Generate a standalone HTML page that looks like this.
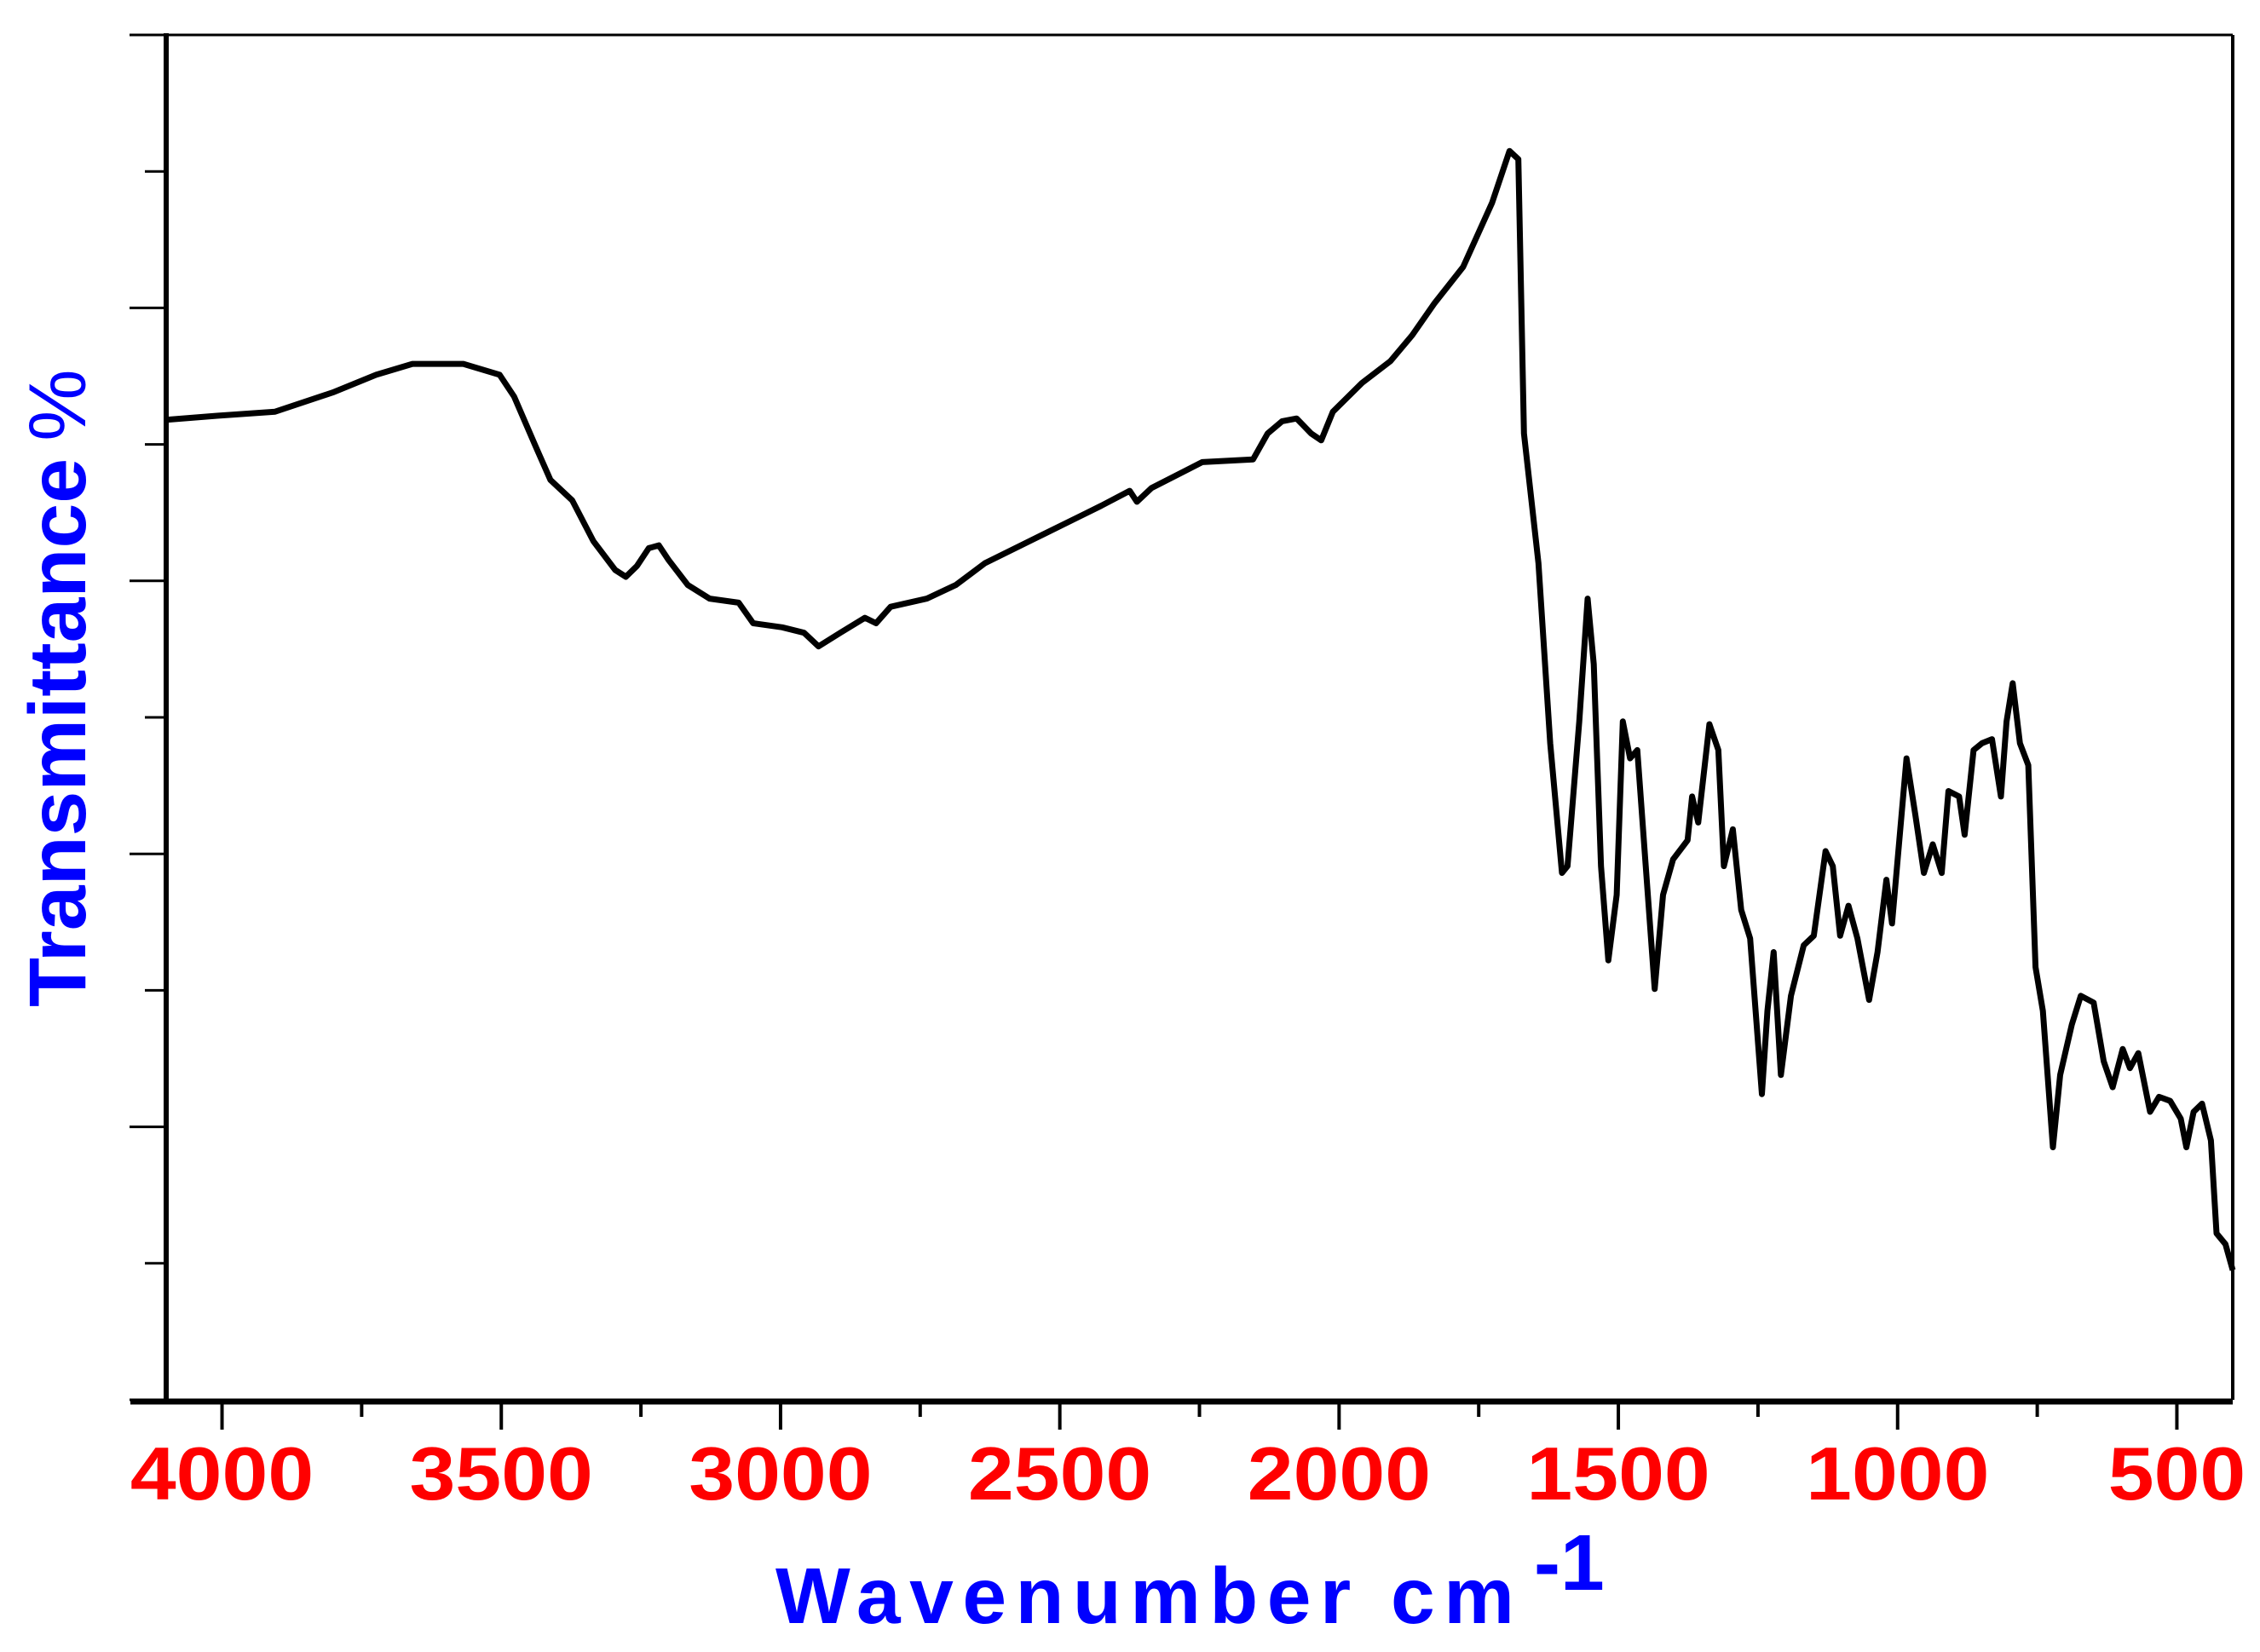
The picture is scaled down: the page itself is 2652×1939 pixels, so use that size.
<!DOCTYPE html>
<html><head><meta charset="utf-8"><style>
html,body{margin:0;padding:0;background:#fff;}
svg{display:block;}
</style></head><body>
<svg id="chart" width="2652" height="1939" viewBox="0 0 2652 1939" xmlns="http://www.w3.org/2000/svg">
<g id="axes"></g>
<path id="spectrum" fill="none" stroke="#000" stroke-width="7" stroke-linejoin="round"/>
<text x="910" y="1905" font-family="Liberation Sans, sans-serif" font-weight="bold" font-size="93" fill="#0000ff" textLength="867" lengthAdjust="spacing">Wavenumber cm</text>
<text x="1800" y="1866" font-family="Liberation Sans, sans-serif" font-weight="bold" font-size="93" fill="#0000ff">-1</text>
<text transform="translate(100,1182) rotate(-90)" font-family="Liberation Sans, sans-serif" font-size="95" fill="#0000ff"><tspan font-weight="bold">Transmittance</tspan><tspan dx="20">%</tspan></text>
</svg>
<script>
const wavenumbers=[4100,4009,3905,3802,3724,3659,3568,3503,3477,3438,3412,3373,3335,3296,3277,3257,3236,3218,3200,3166,3127,3075,3049,2997,2958,2932,2893,2849,2829,2803,2738,2686,2634,2530,2426,2375,2362,2336,2245,2154,2128,2102,2076,2050,2032,2011,1959,1908,1869,1830,1778,1726,1695,1679,1669,1643,1622,1601,1591,1570,1555,1544,1531,1518,1503,1492,1479,1466,1451,1435,1420,1402,1376,1368,1357,1337,1321,1311,1295,1280,1264,1243,1233,1222,1209,1191,1168,1150,1129,1116,1103,1088,1072,1051,1036,1020,1010,984,968,953,937,921,909,890,880,864,849,831,815,805,794,781,766,753,740,722,709,688,672,649,631,615,597,584,569,548,532,512,493,483,470,455,439,429,413,400];
const transmittance=[71.8,72.1,72.4,73.8,75.1,75.9,75.9,75.1,73.5,69.8,67.4,65.9,62.9,60.8,60.3,61.1,62.4,62.6,61.5,59.7,58.7,58.4,56.9,56.6,56.2,55.2,56.2,57.3,56.9,58.1,58.7,59.7,61.3,63.4,65.5,66.6,65.8,66.8,68.7,68.9,70.8,71.7,71.9,70.8,70.3,72.4,74.5,76.1,78.0,80.3,83.0,87.7,91.5,90.9,70.8,61.3,48.1,38.6,39.1,49.7,58.7,53.9,39.1,32.2,37.0,49.7,47.0,47.6,39.1,30.1,37.0,39.6,41.0,44.2,42.3,49.5,47.6,39.1,41.8,35.9,33.8,22.4,28.5,32.8,23.8,29.6,33.3,34.0,40.2,39.1,34.0,36.2,33.8,29.3,32.8,38.1,34.9,47.0,42.8,38.6,40.7,38.6,44.6,44.2,41.4,47.6,48.1,48.4,44.2,49.7,52.5,48.1,46.5,31.7,28.5,18.5,23.8,27.5,29.6,29.1,24.8,22.9,25.7,24.3,25.4,21.1,22.2,21.9,20.6,18.5,21.1,21.7,19.0,12.2,11.4,9.5];
const xTickValues=[4000,3500,3000,2500,2000,1500,1000,500];
const xTickLabels=["4000","3500","3000","2500","2000","1500","1000","500"];
const yTickValues=[0,10,20,30,40,50,60,70,80,90,100];

const L=195,R=2620,T=41,B=1643,XMAX=4100,XMIN=400,YMIN=0,YMAX=100;
function xs(w){return L+(XMAX-w)/(XMAX-XMIN)*(R-L);}
function ys(t){return B-(t-YMIN)/(YMAX-YMIN)*(B-T);}
const NS="http://www.w3.org/2000/svg";
const axes=document.getElementById('axes');
function mk(tag,attrs,parent){const e=document.createElementNS(NS,tag);for(const k in attrs)e.setAttribute(k,attrs[k]);(parent||axes).appendChild(e);return e;}

let d='';
for(let i=0;i<wavenumbers.length;i++){d+=(i?'L':'M')+xs(wavenumbers[i]).toFixed(1)+' '+ys(transmittance[i]).toFixed(1);}
document.getElementById('spectrum').setAttribute('d',d);

let e;
e=mk('line',{x1:152,y1:T,x2:R,y2:T,stroke:'#000','stroke-width':3});


e=mk('line',{x1:R,y1:T,x2:R,y2:B,stroke:'#000','stroke-width':4});


e=mk('line',{x1:L,y1:T-2,x2:L,y2:B+4,stroke:'#000','stroke-width':6});


e=mk('line',{x1:153,y1:B+2,x2:R,y2:B+2,stroke:'#000','stroke-width':7});



yTickValues.forEach((v,i)=>{
  const major=(v%20===0);
  const t=mk('line',{x1:major?152:170,y1:ys(v),x2:L,y2:ys(v),stroke:'#000','stroke-width':3});
  
  
});
xTickValues.forEach((v,i)=>{
  const t=mk('line',{x1:xs(v),y1:B,x2:xs(v),y2:1678,stroke:'#000','stroke-width':4});
  
  
  if(i<xTickValues.length-1){
    const m=mk('line',{x1:xs(v-250),y1:B,x2:xs(v-250),y2:1663,stroke:'#000','stroke-width':4});
    
    
  }
  const lb=mk('text',{transform:'translate('+xs(v).toFixed(1)+',1760) scale(1.1,1)','text-anchor':'middle','font-family':'Liberation Sans, sans-serif','font-weight':'bold','font-size':88,fill:'#ff0000'});
  lb.textContent=xTickLabels[i];
  
  
});
</script>
</body></html>
